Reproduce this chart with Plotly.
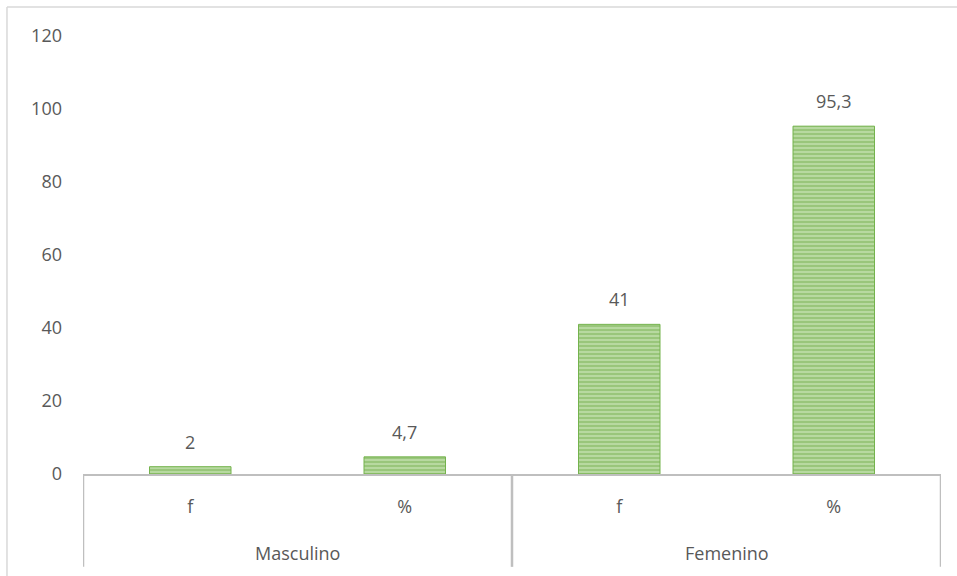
import plotly.graph_objects as go

# Frequency and percentage by sex
groups = ["Masculino", "Masculino", "Femenino", "Femenino"]
measures = ["f", "%", "f", "%"]
values = [2, 4.7, 41, 95.3]
value_labels = ["2", "4,7", "41", "95,3"]
y_ticks = [0, 20, 40, 60, 80, 100, 120]

text_color = "#595959"
line_color = "#BFBFBF"
font_family = "Open Sans, sans-serif"
font_size = 18

positions = list(range(len(values)))

fig = go.Figure(
    go.Bar(
        x=positions,
        y=values,
        width=0.38,
        marker=dict(
            color="#C8E3B5",
            line=dict(width=1, color="#74B34D"),
            pattern=dict(shape="-", fgcolor="#6AAA42", bgcolor="#C8E3B5",
                         size=4, solidity=0.68),
        ),
    )
)

# Value labels above each bar
for xp, v, lab in zip(positions, values, value_labels):
    fig.add_annotation(x=xp, y=v, xref="x", yref="y", text=lab,
                       showarrow=False, yanchor="bottom", yshift=11,
                       font=dict(size=font_size, color=text_color))

fig.update_layout(
    width=957,
    height=576,
    margin=dict(l=83, r=16, t=36, b=102),
    paper_bgcolor="white",
    plot_bgcolor="white",
    font=dict(family=font_family, size=font_size, color=text_color),
    showlegend=False,
)

fig.update_yaxes(
    range=[0, 120],
    tickvals=y_ticks,
    showgrid=False,
    zeroline=False,
    showline=False,
    ticks="",
    ticklabelstandoff=20,
    tickfont=dict(size=font_size, color=text_color),
)

fig.update_xaxes(
    range=[-0.5, len(values) - 0.5],
    tickvals=positions,
    ticktext=measures,
    showline=True,
    linecolor=line_color,
    linewidth=2,
    showgrid=False,
    zeroline=False,
    ticks="",
    ticklabelstandoff=15,
    tickfont=dict(size=font_size, color=text_color),
)

# Group dividers and group labels below the measure labels
div_bottom = -0.212
group_spans = []
for i, g in enumerate(groups):
    if not group_spans or group_spans[-1][0] != g:
        group_spans.append([g, i, i])
    else:
        group_spans[-1][2] = i

edges = sorted({s[1] - 0.5 for s in group_spans} | {s[2] + 0.5 for s in group_spans})
for e in edges:
    fig.add_shape(type="line", xref="x", yref="paper",
                  x0=e, x1=e, y0=0, y1=div_bottom,
                  line=dict(color=line_color, width=2.5))

for g, start, end in group_spans:
    fig.add_annotation(x=(start + end) / 2, y=-0.18, xref="x", yref="paper",
                       text=g, showarrow=False, yanchor="middle",
                       font=dict(size=font_size, color=text_color))

# Outer frame edges (top and left)
fig.add_shape(type="line", xref="paper", yref="paper",
              x0=-0.0886, x1=1.05, y0=1.0662, y1=1.0662,
              line=dict(color="#D9D9D9", width=1.5))
fig.add_shape(type="line", xref="paper", yref="paper",
              x0=-0.0886, x1=-0.0886, y0=1.0662, y1=-0.25,
              line=dict(color="#D9D9D9", width=1.5))

fig.write_html("out.html")
